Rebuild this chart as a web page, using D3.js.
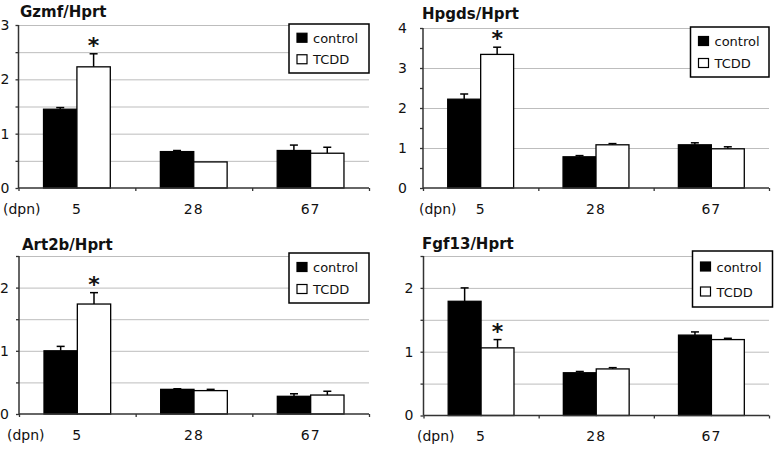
<!DOCTYPE html>
<html>
<head>
<meta charset="utf-8">
<script src="https://cdn.jsdelivr.net/npm/d3@7"></script>
<style>
  html, body { margin: 0; padding: 0; background: #fff; }
  svg { display: block; }
  text { font-family: "DejaVu Sans", sans-serif; fill: #111; }
</style>
</head>
<body>
<svg id="chart" width="778" height="449"></svg>
<script>
// ---------------- data ----------------
const categories = ["5", "28", "67"];
const seriesNames = ["control", "TCDD"];
const titles = ["Gzmf/Hprt", "Hpgds/Hprt", "Art2b/Hprt", "Fgf13/Hprt"];
const xAxisLabel = "(dpn)";

const gzmfControl = [1.45, 0.67, 0.69];
const gzmfControlErr = [0.03, 0.02, 0.10];
const gzmfTCDD = [2.23, 0.48, 0.64];
const gzmfTCDDErr = [0.24, 0.0, 0.11];

const hpgdsControl = [2.22, 0.78, 1.08];
const hpgdsControlErr = [0.13, 0.03, 0.05];
const hpgdsTCDD = [3.34, 1.08, 0.98];
const hpgdsTCDDErr = [0.18, 0.03, 0.05];

const art2bControl = [1.00, 0.39, 0.28];
const art2bControlErr = [0.07, 0.01, 0.04];
const art2bTCDD = [1.74, 0.37, 0.30];
const art2bTCDDErr = [0.18, 0.02, 0.06];

const fgf13Control = [1.79, 0.67, 1.26];
const fgf13ControlErr = [0.21, 0.02, 0.05];
const fgf13TCDD = [1.06, 0.73, 1.19];
const fgf13TCDDErr = [0.13, 0.02, 0.02];

// significance marks (TCDD vs control) per category
const gzmfSig = [true, false, false];
const hpgdsSig = [true, false, false];
const art2bSig = [true, false, false];
const fgf13Sig = [true, false, false];

// y-axis ticks
const yMaxes = [3, 4, 2.5, 2.5];
const tickStep = 0.5;
const gridSteps = [0.5, 1, 0.5, 0.5];

// ---------------- layout ----------------
const layouts = [
  {left: 18.5, right: 369, bottom: 188, top: 25, titleX: 20, titleY: 17, labelGap: 9, catY: 214, dpnX: 3, legend: [289, 24, 80, 49]},
  {left: 423, right: 769, bottom: 188, top: 28, titleX: 422, titleY: 19, labelGap: 16, catY: 214, dpnX: 419, legend: [690.5, 27, 78.5, 50]},
  {left: 19, right: 369, bottom: 414, top: 256, titleX: 22, titleY: 250, labelGap: 10, catY: 440, dpnX: 7, legend: [289, 253, 80, 50]},
  {left: 423.5, right: 769, bottom: 415.5, top: 256, titleX: 422, titleY: 249, labelGap: 10, catY: 441, dpnX: 417, legend: [692.5, 251, 80, 56]}
];

const panels = [
  {values: [gzmfControl, gzmfTCDD], errs: [gzmfControlErr, gzmfTCDDErr], sig: gzmfSig},
  {values: [hpgdsControl, hpgdsTCDD], errs: [hpgdsControlErr, hpgdsTCDDErr], sig: hpgdsSig},
  {values: [art2bControl, art2bTCDD], errs: [art2bControlErr, art2bTCDDErr], sig: art2bSig},
  {values: [fgf13Control, fgf13TCDD], errs: [fgf13ControlErr, fgf13TCDDErr], sig: fgf13Sig}
];

const fills = ["#000", "#fff"];
const svg = d3.select("#chart");

panels.forEach((p, i) => {
  const L = layouts[i];
  const g = svg.append("g");
  const yMax = yMaxes[i];

  const y = d3.scaleLinear().domain([0, yMax]).range([L.bottom, L.top]);
  const x0 = d3.scaleBand().domain(categories).range([L.left, L.right]).padding(0);
  const bw = x0.bandwidth();
  const x1 = d3.scaleBand().domain(seriesNames)
    .range([bw * 0.75 / 3.5, bw * 2.75 / 3.5]).padding(0);
  const xb = d3.scaleLinear().domain([0, categories.length]).range([L.left, L.right]);

  const gridVals = d3.range(gridSteps[i], yMax + 1e-9, gridSteps[i]);
  const tickVals = d3.range(0, yMax + 1e-9, tickStep);

  // gridlines
  g.append("g")
    .attr("transform", `translate(${L.left},0)`)
    .call(d3.axisLeft(y).tickValues(gridVals).tickSize(-(L.right - L.left)).tickFormat(""))
    .call(s => s.select(".domain").remove())
    .call(s => s.selectAll(".tick line").attr("stroke", "#bdbdbd").attr("stroke-width", 1));

  // bars
  const data = [];
  categories.forEach((c, ci) => {
    seriesNames.forEach((s, si) => {
      data.push({c, s, si, v: p.values[si][ci], e: p.errs[si][ci], sig: si === 1 && p.sig[ci]});
    });
  });

  const cx = d => x0(d.c) + x1(d.s) + x1.bandwidth() / 2;

  // error bars
  const eb = g.append("g").attr("stroke", "#000").attr("stroke-width", 1.5);
  eb.selectAll("line.v").data(data.filter(d => d.e > 0)).join("line")
    .attr("x1", cx).attr("x2", cx)
    .attr("y1", d => y(d.v)).attr("y2", d => y(d.v + d.e));
  eb.selectAll("line.c").data(data.filter(d => d.e > 0)).join("line")
    .attr("x1", d => cx(d) - 4).attr("x2", d => cx(d) + 4)
    .attr("y1", d => y(d.v + d.e)).attr("y2", d => y(d.v + d.e));

  g.append("g").selectAll("rect").data(data).join("rect")
    .attr("x", d => x0(d.c) + x1(d.s))
    .attr("width", x1.bandwidth())
    .attr("y", d => y(d.v))
    .attr("height", d => y(0) - y(d.v))
    .attr("fill", d => fills[d.si])
    .attr("stroke", "#000")
    .attr("stroke-width", 1.3);

  // stars
  g.append("g").selectAll("text").data(data.filter(d => d.sig)).join("text")
    .attr("x", cx)
    .attr("y", d => y(d.v + d.e) - 1)
    .attr("text-anchor", "middle")
    .style("font-weight", "bold")
    .style("font-size", "22px")
    .text("*");

  // y axis
  g.append("g")
    .attr("transform", `translate(${L.left},0)`)
    .call(d3.axisLeft(y).tickValues(tickVals).tickSize(3).tickPadding(L.labelGap - 3)
      .tickFormat(v => Number.isInteger(v) ? d3.format("d")(v) : ""))
    .call(s => s.select(".domain").attr("stroke", "#333").attr("stroke-width", 1.5).attr("d", `M0,${L.bottom}V${L.top}`))
    .call(s => s.selectAll(".tick line").attr("stroke", "#333").attr("stroke-width", 1.3))
    .call(s => s.selectAll(".tick text").style("font-size", "14px").style("font-family", "DejaVu Sans").attr("fill", "#111"));

  // x axis baseline with boundary ticks
  g.append("g")
    .attr("transform", `translate(0,${L.bottom})`)
    .call(d3.axisBottom(xb).tickValues(d3.range(0, categories.length + 1)).tickSize(3).tickFormat(""))
    .call(s => s.select(".domain").attr("stroke", "#333").attr("stroke-width", 1.5).attr("d", `M${L.left},0H${L.right}`))
    .call(s => s.selectAll(".tick line").attr("stroke", "#333").attr("stroke-width", 1.3));

  // category labels
  g.append("g").selectAll("text").data(categories).join("text")
    .attr("x", c => x0(c) + bw / 2)
    .attr("y", L.catY)
    .attr("text-anchor", "middle")
    .style("font-size", "14px")
    .style("letter-spacing", "1px")
    .text(c => c);

  g.append("text")
    .attr("x", L.dpnX).attr("y", L.catY)
    .style("font-size", "14px")
    .text(xAxisLabel);

  // title
  g.append("text")
    .attr("x", L.titleX).attr("y", L.titleY)
    .style("font-weight", "bold").style("font-size", "15px")
    .text(titles[i]);

  // legend
  const [lx, ly, lw, lh] = L.legend;
  const lg = g.append("g");
  lg.append("rect").attr("x", lx).attr("y", ly).attr("width", lw).attr("height", lh)
    .attr("fill", "#fff").attr("stroke", "#000").attr("stroke-width", 1.5);
  const rowH = lh / 2;
  seriesNames.forEach((s, si) => {
    const cy = ly + rowH * (si + 0.5) + (si === 0 ? 1.5 : -1.5);
    lg.append("rect").attr("x", lx + 8).attr("y", cy - 4.5).attr("width", 10).attr("height", 9)
      .attr("fill", fills[si]).attr("stroke", "#000").attr("stroke-width", 1.2);
    lg.append("text").attr("x", lx + 24).attr("y", cy + 5)
      .style("font-size", "13px").text(s);
  });
});
</script>
</body>
</html>
